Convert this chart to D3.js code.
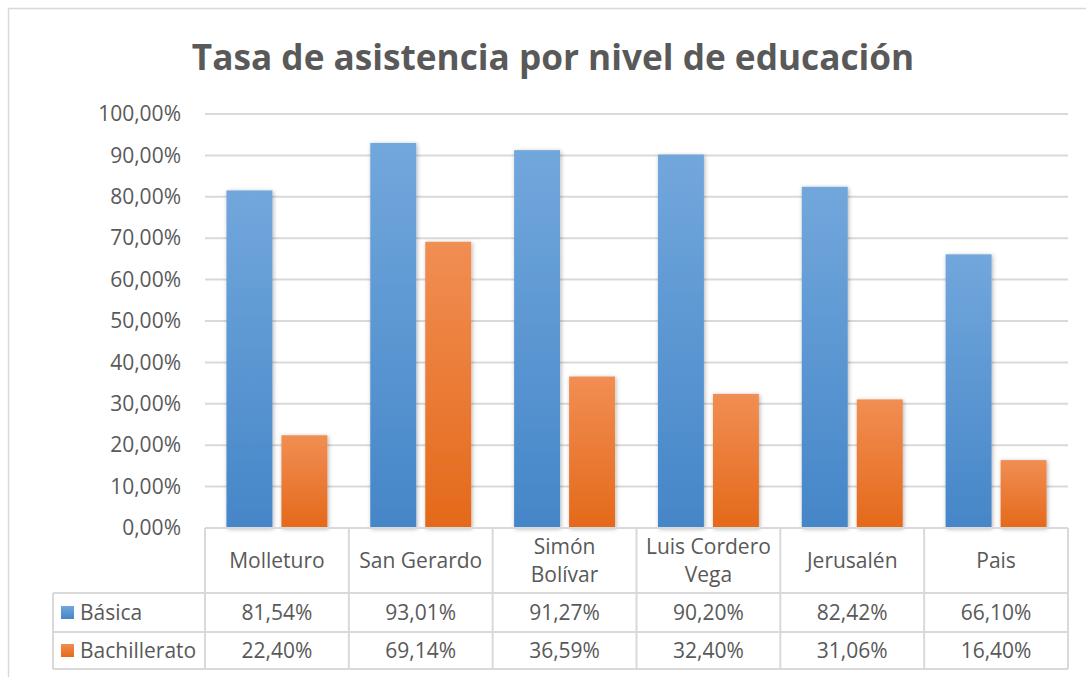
<!DOCTYPE html>
<html>
<head>
<meta charset="utf-8">
<script src="https://cdn.jsdelivr.net/npm/d3@7"></script>
<style>
  body { margin: 0; background: #fff; }
  svg { display: block; font-family: "Open Sans", sans-serif; }
</style>
</head>
<body>
<div id="chart"></div>
<script>
// datos
const categorias = ["Molleturo", "San Gerardo", "Simón Bolívar", "Luis Cordero Vega", "Jerusalén", "Pais"];
const etiquetasCat = [["Molleturo"], ["San Gerardo"], ["Simón", "Bolívar"], ["Luis Cordero", "Vega"], ["Jerusalén"], ["Pais"]];
const series = ["Básica", "Bachillerato"];
const basica = [81.54, 93.01, 91.27, 90.20, 82.42, 66.10];
const bachillerato = [22.40, 69.14, 36.59, 32.40, 31.06, 16.40];
const ticksY = [0, 10, 20, 30, 40, 50, 60, 70, 80, 90, 100];
const titulo = "Tasa de asistencia por nivel de educación";

const valores = [basica, bachillerato];
const colores = [
    { top: "#72a7dc", bottom: "#4586c8" },
    { top: "#f18e53", bottom: "#e4691a" }
];

const width = 1086, height = 677;
const plotLeft = 205, plotRight = 1068, plotTop = 114, plotBottom = 528;
const rowTops = [528, 593, 632, 669];
const legendLeft = 53;
const gris = "#d9d9d9", texto = "#595959";
const fs = 21;

const es = d3.formatLocale({ decimal: ",", thousands: ".", grouping: [3], currency: ["", ""] });
const fmt = v => es.format(".2f")(v) + "%";

const svg = d3.select("#chart").append("svg")
    .attr("width", width)
    .attr("height", height);

const defs = svg.append("defs");
colores.forEach((c, i) => {
    const gr = defs.append("linearGradient")
        .attr("id", "grad" + i)
        .attr("x1", 0).attr("y1", 0).attr("x2", 0).attr("y2", 1);
    gr.append("stop").attr("offset", "0%").attr("stop-color", c.top);
    gr.append("stop").attr("offset", "100%").attr("stop-color", c.bottom);
});
const sombra = defs.append("filter").attr("id", "sombra")
    .attr("x", "-20%").attr("y", "-20%").attr("width", "140%").attr("height", "140%");
sombra.append("feDropShadow")
    .attr("dx", 1).attr("dy", 1).attr("stdDeviation", 2.2)
    .attr("flood-color", "#000").attr("flood-opacity", 0.3);

// borde del gráfico
svg.append("rect")
    .attr("x", 8.5).attr("y", 8.5)
    .attr("width", width + 20).attr("height", height + 20)
    .attr("fill", "none").attr("stroke", gris).attr("stroke-width", 1.5);

// título
svg.append("text")
    .attr("x", 553).attr("y", 70)
    .attr("text-anchor", "middle")
    .attr("fill", texto)
    .attr("font-size", 35.2)
    .attr("font-weight", "bold")
    .text(titulo);

// escalas
const y = d3.scaleLinear().domain([0, 100]).range([plotBottom, plotTop]);
const x0 = d3.scaleBand().domain(categorias).range([plotLeft, plotRight]).padding(0);
const x1 = d3.scaleBand().domain(series).range([0, x0.bandwidth()])
    .paddingInner(0.164).paddingOuter(0.39);

// líneas de cuadrícula
svg.append("g")
    .selectAll("line")
    .data(ticksY)
    .join("line")
    .attr("x1", plotLeft).attr("x2", plotRight)
    .attr("y1", d => y(d)).attr("y2", d => y(d))
    .attr("stroke", gris).attr("stroke-width", 2);

// eje Y
const ejeY = svg.append("g")
    .attr("transform", `translate(${plotLeft - 24},0)`)
    .call(d3.axisLeft(y).tickValues(ticksY).tickSize(0).tickPadding(0).tickFormat(fmt));
ejeY.select(".domain").remove();
ejeY.selectAll("text")
    .attr("fill", texto)
    .attr("font-size", fs)
    .attr("font-family", "Open Sans, sans-serif");

// barras
const grupos = svg.append("g")
    .selectAll("g")
    .data(categorias)
    .join("g")
    .attr("transform", d => `translate(${x0(d)},0)`);

grupos.selectAll("rect")
    .data((d, i) => series.map((s, j) => ({ serie: s, j: j, valor: valores[j][i] })))
    .join("rect")
    .attr("x", d => x1(d.serie))
    .attr("y", d => y(d.valor))
    .attr("width", x1.bandwidth())
    .attr("height", d => y(0) - y(d.valor))
    .attr("fill", d => `url(#grad${d.j})`)
    .attr("filter", "url(#sombra)");

// tabla de datos
const tabla = svg.append("g");
const bordes = [plotLeft].concat(categorias.map(c => x0(c) + x0.bandwidth()));

// líneas horizontales
tabla.append("line")
    .attr("x1", plotLeft).attr("x2", plotRight)
    .attr("y1", rowTops[0]).attr("y2", rowTops[0])
    .attr("stroke", gris).attr("stroke-width", 2);
rowTops.slice(1).forEach(r => {
    tabla.append("line")
        .attr("x1", legendLeft).attr("x2", plotRight)
        .attr("y1", r).attr("y2", r)
        .attr("stroke", gris).attr("stroke-width", 2);
});
// líneas verticales
bordes.forEach(b => {
    tabla.append("line")
        .attr("x1", b).attr("x2", b)
        .attr("y1", rowTops[0]).attr("y2", rowTops[3])
        .attr("stroke", gris).attr("stroke-width", 2);
});
tabla.append("line")
    .attr("x1", legendLeft).attr("x2", legendLeft)
    .attr("y1", rowTops[1]).attr("y2", rowTops[3])
    .attr("stroke", gris).attr("stroke-width", 2);

// etiquetas de categorías
const catMid = (rowTops[0] + rowTops[1]) / 2;
tabla.selectAll("text.cat")
    .data(categorias)
    .join("text")
    .attr("class", "cat")
    .attr("text-anchor", "middle")
    .attr("fill", texto)
    .attr("font-size", fs)
    .each(function (d, i) {
        const lineas = etiquetasCat[i];
        const t = d3.select(this);
        lineas.forEach((l, k) => {
            t.append("tspan")
                .attr("x", x0(d) + x0.bandwidth() / 2)
                .attr("y", catMid + (k - (lineas.length - 1) / 2) * 28)
                .attr("dy", "0.35em")
                .text(l);
        });
    });

// filas de valores
series.forEach((s, j) => {
    const mid = (rowTops[j + 1] + rowTops[j + 2]) / 2;
    tabla.append("rect")
        .attr("x", legendLeft + 8).attr("y", mid - 6.5)
        .attr("width", 13).attr("height", 13)
        .attr("fill", `url(#grad${j})`);
    tabla.append("text")
        .attr("x", legendLeft + 27).attr("y", mid)
        .attr("dy", "0.35em")
        .attr("fill", texto)
        .attr("font-size", fs)
        .text(s);
    tabla.selectAll("text.v" + j)
        .data(valores[j])
        .join("text")
        .attr("class", "v" + j)
        .attr("x", (d, i) => x0(categorias[i]) + x0.bandwidth() / 2)
        .attr("y", mid)
        .attr("dy", "0.35em")
        .attr("text-anchor", "middle")
        .attr("fill", texto)
        .attr("font-size", fs)
        .text(d => fmt(d));
});
</script>
</body>
</html>
